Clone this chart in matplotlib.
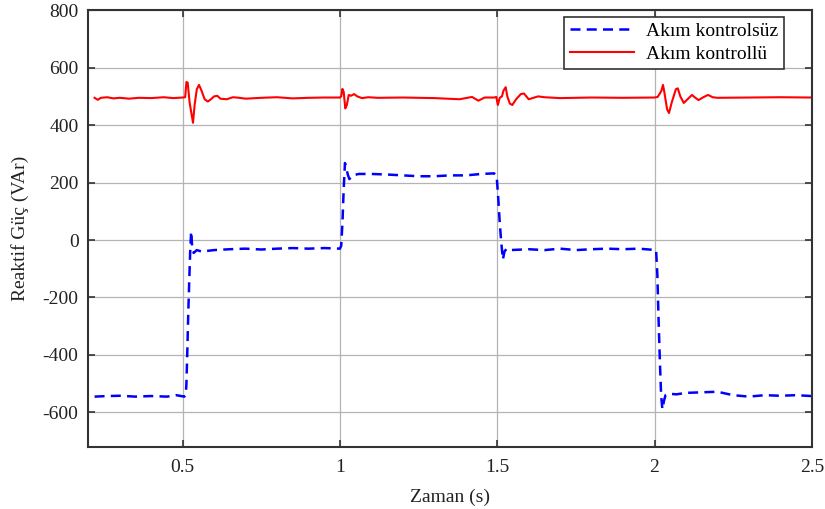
import matplotlib
matplotlib.use('Agg')
from matplotlib import pyplot as plt

plt.rcParams['font.family'] = ['Liberation Serif', 'DejaVu Serif']
plt.rcParams['axes.unicode_minus'] = False

# Akım kontrolsüz (mavi, kesikli)
t_blue = [0.22, 0.26, 0.30, 0.35, 0.40, 0.45, 0.48, 0.505, 0.51, 0.512, 0.515,
          0.518, 0.521, 0.524, 0.527, 0.53, 0.535, 0.545, 0.56, 0.6, 0.65, 0.7,
          0.75, 0.8, 0.85, 0.9, 0.95, 1.0, 1.004, 1.008, 1.012, 1.016, 1.02,
          1.025, 1.03, 1.04, 1.06, 1.1, 1.15, 1.2, 1.25, 1.3, 1.35, 1.4, 1.45,
          1.49, 1.498, 1.503, 1.508, 1.513, 1.518, 1.523, 1.53, 1.54, 1.6,
          1.65, 1.7, 1.75, 1.8, 1.85, 1.9, 1.95, 2.005, 2.009, 2.013, 2.017,
          2.021, 2.025, 2.03, 2.035, 2.045, 2.07, 2.1, 2.15, 2.2, 2.25, 2.3,
          2.35, 2.4, 2.45, 2.5]
v_blue = [-545, -543, -542, -545, -543, -545, -540, -545, -540, -500, -380,
          -250, -140, -40, 30, -20, -45, -35, -40, -35, -32, -30,
          -33, -30, -28, -30, -28, -30, -20, 60, 180, 268, 250,
          228, 212, 225, 230, 230, 228, 225, 222, 222, 225, 225, 230,
          232, 225, 150, 60, -10, -68, -40, -30, -35, -32,
          -35, -30, -35, -32, -30, -32, -30, -35, -120, -280, -420,
          -540, -589, -560, -540, -535, -537, -532, -530, -528, -540, -545,
          -540, -542, -540, -543]

# Akım kontrollü (kırmızı, düz)
t_red = [0.22, 0.23, 0.24, 0.26, 0.28, 0.30, 0.33, 0.36, 0.40, 0.44, 0.47,
         0.50, 0.508, 0.512, 0.516, 0.522, 0.528, 0.533, 0.538, 0.545, 0.552,
         0.56, 0.57, 0.58, 0.59, 0.60, 0.61, 0.62, 0.64, 0.66, 0.68, 0.70,
         0.75, 0.8, 0.85, 0.9, 0.95, 1.0, 1.004, 1.008, 1.012, 1.017, 1.022,
         1.028, 1.035, 1.045, 1.055, 1.07, 1.09, 1.12, 1.2, 1.3, 1.38, 1.42,
         1.44, 1.46, 1.49, 1.497, 1.502, 1.508, 1.515, 1.52, 1.527, 1.532,
         1.54, 1.548, 1.56, 1.575, 1.585, 1.6, 1.615, 1.63, 1.65, 1.7, 1.8,
         1.9, 2.0, 2.01, 2.017, 2.022, 2.027, 2.032, 2.04, 2.046, 2.055,
         2.068, 2.074, 2.082, 2.093, 2.105, 2.119, 2.13, 2.14, 2.155, 2.17,
         2.185, 2.2, 2.3, 2.4, 2.5]
v_red = [495, 488, 495, 497, 493, 495, 492, 495, 494, 497, 494,
         496, 497, 550, 548, 480, 440, 408, 470, 525, 540,
         520, 490, 482, 490, 500, 502, 492, 490, 497, 495, 492,
         495, 497, 493, 495, 496, 496, 500, 526, 515, 458, 470,
         505, 502, 508, 500, 494, 497, 495, 496, 494, 490, 498,
         485, 496, 496, 498, 470, 495, 500, 520, 532, 500,
         475, 470, 490, 508, 510, 490, 495, 500, 497, 494, 496,
         495, 496, 498, 510, 520, 540, 510, 455, 442, 480,
         525, 528, 500, 477, 490, 505, 495, 487, 497, 505,
         497, 495, 496, 497, 496]

x_ticks = [0.5, 1, 1.5, 2, 2.5]
x_labels = ['0.5', '1', '1.5', '2', '2.5']
y_ticks = [-600, -400, -200, 0, 200, 400, 600, 800]

fig = plt.figure(figsize=(8.25, 5.09), dpi=100)
ax = fig.add_axes([0.107, 0.122, 0.877, 0.858])

ax.plot(t_blue, v_blue, color='#0000ff', lw=1.8, dashes=(4, 2.5),
        label='Akım kontrolsüz')
ax.plot(t_red, v_red, color='#ff0000', lw=1.5, label='Akım kontrollü')

ax.set_xlim(0.2, 2.5)
ax.set_ylim(-720, 800)
ax.set_xticks(x_ticks)
ax.set_xticklabels(x_labels)
ax.set_yticks(y_ticks)
ax.grid(True, color='#b4b4b4', lw=0.9)
ax.tick_params(direction='in', top=True, right=True, length=5, width=1.2,
               labelsize=14, colors='#333333', labelcolor='#222222', pad=7)
ax.tick_params(axis='x', pad=9)
for s in ax.spines.values():
    s.set_linewidth(1.5)
    s.set_color('#333333')

ax.set_xlabel('Zaman (s)', fontsize=14, labelpad=9, color='#222222')
ax.set_ylabel('Reaktif Güç (VAr)', fontsize=14, labelpad=10, color='#222222')

leg = ax.legend(loc='upper right', bbox_to_anchor=(0.95, 0.967),
                bbox_transform=fig.transFigure, fontsize=14, fancybox=False,
                framealpha=1, edgecolor='#333333', handlelength=3.3,
                borderpad=0.3, labelspacing=0.25, borderaxespad=0,
                handletextpad=0.6)
leg.get_frame().set_linewidth(1.2)

fig.savefig('out.png', dpi=100)
